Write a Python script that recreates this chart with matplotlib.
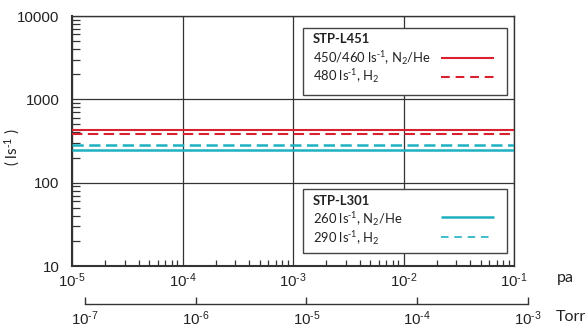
import matplotlib
matplotlib.use("Agg")
import matplotlib.pyplot as plt
from matplotlib.ticker import LogLocator, FixedLocator, FixedFormatter, NullFormatter
from matplotlib.patches import Rectangle
from matplotlib.lines import Line2D

plt.rcParams['mathtext.fontset'] = 'custom'
plt.rcParams['mathtext.rm'] = 'Liberation Sans'
plt.rcParams['mathtext.it'] = 'Liberation Sans'

# ---- data ----
pressure_pa = [1e-5, 1e-1]
l451_n2he = [425, 425]
l451_h2 = [385, 385]
l301_n2he = [250, 250]
l301_h2 = [280, 280]

pa_ticks = [1e-5, 1e-4, 1e-3, 1e-2, 1e-1]
pa_exps = ['5', '4', '3', '2', '1']
torr_ticks = [1e-7, 1e-6, 1e-5, 1e-4, 1e-3]
torr_exps = ['7', '6', '5', '4', '3']
y_ticks = [10, 100, 1000, 10000]
y_labels = ['10', '100', '1000', '10000']

def sup(e):
    return r'$\mathregular{10^{\text{-}' + e + r'}}$'

pa_labels = [sup(e) for e in pa_exps]
torr_labels = [sup(e) for e in torr_exps]

RED = '#d9202f'
CYAN = '#1eb1c1'
GRID = '#333333'

W, H = 586, 327
fig = plt.figure(figsize=(W / 100, H / 100), dpi=100)

def fx(px):
    return px / W

def fy(py):
    return 1 - py / H

# main axes: x 72..514, y 16..266
ax = fig.add_axes([fx(72), fy(266), fx(514) - fx(72), fy(16) - fy(266)])
ax.set_xscale('log')
ax.set_yscale('log')
ax.set_xlim(1e-5, 1e-1)
ax.set_ylim(10, 10000)

ax.plot(pressure_pa, l451_n2he, color=RED, lw=1.5, solid_capstyle='butt', zorder=3)
ax.plot(pressure_pa, l451_h2, color=RED, lw=1.5, dashes=(5, 2.6), zorder=3)
ax.plot(pressure_pa, l301_n2he, color=CYAN, lw=1.8, solid_capstyle='butt', zorder=3)
ax.plot(pressure_pa, l301_h2, color=CYAN, lw=1.8, dashes=(4.5, 2.2), zorder=3)

ax.xaxis.set_major_locator(FixedLocator(pa_ticks))
ax.xaxis.set_major_formatter(FixedFormatter(pa_labels))
ax.yaxis.set_major_locator(FixedLocator(y_ticks))
ax.yaxis.set_major_formatter(FixedFormatter(y_labels))
ax.xaxis.set_minor_locator(LogLocator(base=10, subs=range(2, 10)))
ax.yaxis.set_minor_locator(LogLocator(base=10, subs=range(2, 10)))
ax.xaxis.set_minor_formatter(NullFormatter())
ax.yaxis.set_minor_formatter(NullFormatter())

ax.tick_params(axis='both', which='major', length=0, labelsize=10.8, labelcolor='#222222')
ax.tick_params(axis='x', which='major', pad=4)
ax.tick_params(axis='y', which='major', pad=9)
ax.tick_params(axis='x', which='minor', direction='in', length=4.5, width=0.9, color='#333333')
ax.tick_params(axis='y', which='minor', direction='in', length=5.5, width=0.9, color='#333333')
for lab in ax.get_xticklabels() + ax.get_yticklabels():
    lab.set_fontfamily('Liberation Sans')

ax.grid(True, which='major', color=GRID, lw=0.9)
for sp in ax.spines.values():
    sp.set_color('#333333')
    sp.set_linewidth(1.0)
ax.spines['left'].set_linewidth(1.5)
ax.spines['bottom'].set_linewidth(1.5)

fig.text(fx(12), fy(147), r'( ls$^{\text{-}\mathregular{1}}$ )', rotation=90, ha='center', va='center',
         fontsize=11, family='Lato', color='#222222')
fig.text(fx(557), fy(278), 'pa', ha='left', va='center', fontsize=11.5, family='Lato', color='#222222')
fig.text(fx(556), fy(317), 'Torr', ha='left', va='center', fontsize=11.5, family='Lato', color='#222222')

# Torr axis
tax = fig.add_axes([fx(84.7), fy(304.3), fx(528) - fx(84.7), 0.02])
tax.set_xscale('log')
tax.set_xlim(1e-7, 1e-3)
tax.xaxis.set_major_locator(FixedLocator(torr_ticks))
tax.xaxis.set_major_formatter(FixedFormatter(torr_labels))
tax.xaxis.set_minor_locator(FixedLocator([]))
tax.set_yticks([])
for s in ['top', 'left', 'right']:
    tax.spines[s].set_visible(False)
tax.spines['bottom'].set_color('#333333')
tax.spines['bottom'].set_linewidth(1.0)
tax.patch.set_visible(False)
tax.tick_params(axis='x', which='major', direction='in', length=5, width=1.0, color='#333333',
                pad=4, labelsize=10.8, labelcolor='#222222')
for lab in tax.get_xticklabels():
    lab.set_fontfamily('Liberation Sans')

# legend boxes
def box(x0, y0, x1, y1):
    r = Rectangle((fx(x0), fy(y1)), fx(x1) - fx(x0), fy(y0) - fy(y1), transform=fig.transFigure,
                  facecolor='white', edgecolor='#444444', lw=1.0, zorder=5)
    fig.add_artist(r)

def txt(x, y, s, bold=False):
    fig.text(fx(x), fy(y), s, ha='left', va='center', fontsize=9.4, family='Lato',
             fontweight='bold' if bold else 'normal', color='#222222', zorder=6)

def sample(y, color, lw, dashes=None):
    kw = dict(transform=fig.transFigure, color=color, lw=lw, zorder=6)
    if dashes:
        kw['dashes'] = dashes
    else:
        kw['solid_capstyle'] = 'butt'
    fig.add_artist(Line2D([fx(441), fx(494)], [fy(y), fy(y)], **kw))

LS = r'ls$^{\text{-}\mathregular{1}}$'
box(303.3, 28.3, 507.3, 94.7)
txt(312.7, 39, 'STP-L451', bold=True)
txt(312.7, 58, '450/460 ' + LS + r', N$_{\mathregular{2}}$/He')
txt(312.7, 76, '480 ' + LS + r', H$_{\mathregular{2}}$')
sample(58, RED, 1.5)
sample(77, RED, 1.5, (4.2, 2.8))

box(303.3, 189, 507.3, 253.3)
txt(312.7, 200.7, 'STP-L301', bold=True)
txt(312.7, 219.5, '260 ' + LS + r', N$_{\mathregular{2}}$/He')
txt(312.7, 238.5, '290 ' + LS + r', H$_{\mathregular{2}}$')
sample(217.3, CYAN, 1.8)
sample(237, CYAN, 1.2, (4.5, 3.5))

fig.savefig('out.png', dpi=100)
